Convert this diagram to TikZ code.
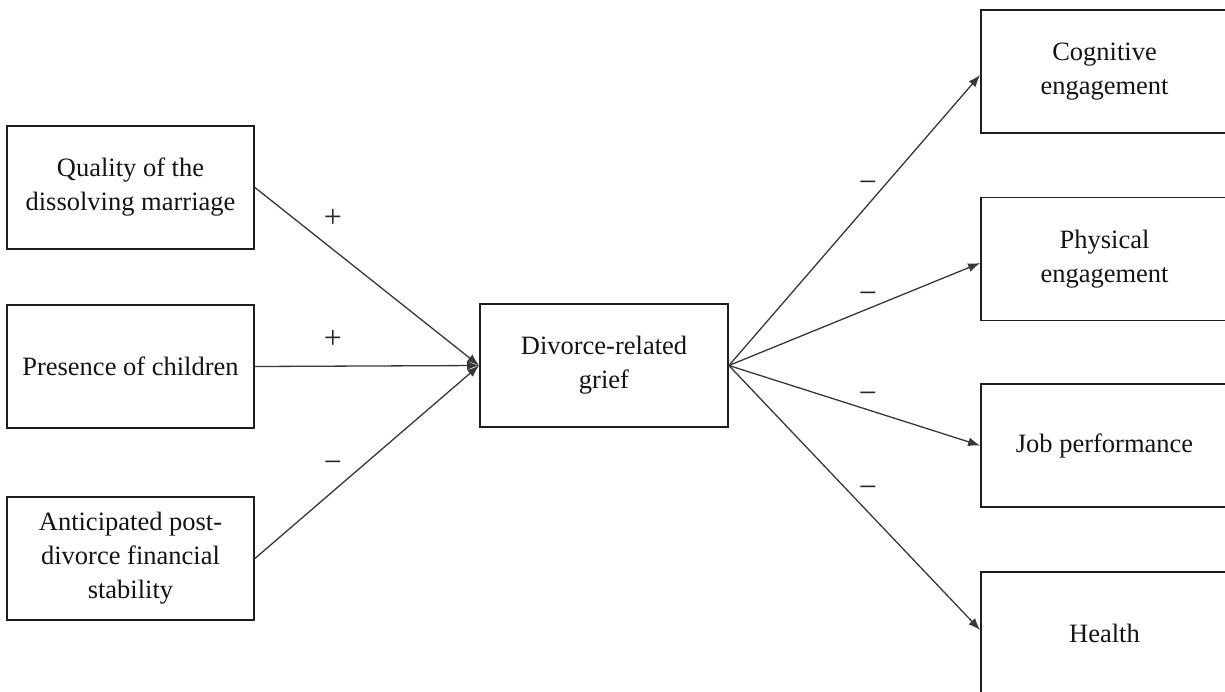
\documentclass[tikz,border=0pt]{standalone}
\usepackage{fontspec}
\setmainfont{Liberation Serif}
\usetikzlibrary{arrows.meta}
\tikzset{
  box/.style={draw=black!88, line width=1.8pt, minimum width=247pt, minimum height=123pt,
    align=center, inner sep=2pt, font=\fontsize{26.5}{34}\selectfont, text=black!92},
  arr/.style={draw=black!78, line width=1.3pt, -{Latex[length=12pt,width=9pt]}},
  sgn/.style={font=\fontsize{32}{34}\selectfont, text=black!85, inner sep=0pt}
}
\begin{document}
\begin{tikzpicture}[x=1pt,y=-1pt]
\useasboundingbox (0,0) rectangle (1225,691);
\fill[white] (0,0) rectangle (1225,691);
\clip (0,0) rectangle (1225,691);
% left boxes
\node[box] (q) at (130.5,187.5) {Quality of the\\dissolving marriage};
\node[box] (p) at (130.5,366.5) {Presence of children};
\node[box] (a) at (130.5,558.5) {Anticipated post-\\divorce financial\\stability};
% centre
\node[box, minimum width=248pt] (g) at (604,365.5) {Divorce-related\\grief};
% right boxes
\node[box] (c) at (1104.5,71.5) {Cognitive\\engagement};
\node[box] (ph) at (1104.5,259) {Physical\\engagement};
\node[box] (j) at (1104.5,445.5) {Job performance};
\node[box] (h) at (1104.5,633.5) {Health};
% connectors
\draw[arr] (q.east) -- (g.west);
\draw[arr] (p.east) -- (g.west);
\draw[arr] (a.east) -- (g.west);
\draw[arr] (g.east) -- ([yshift=-3.5pt]c.west);
\draw[arr] (g.east) -- ([yshift=-4pt]ph.west);
\draw[arr] (g.east) -- (j.west);
\draw[arr] (g.east) -- ([yshift=3.5pt]h.west);
% signs
\node[sgn] (s1) at (333,218) {+};
\node[sgn] (s2) at (333,339) {+};
\node[sgn] (s3) at (333,467) {−};
\node[sgn] (s4) at (868,187) {−};
\node[sgn] (s5) at (868,298) {−};
\node[sgn] (s6) at (868,398) {−};
\node[sgn] (s7) at (868,492) {−};
\end{tikzpicture}
\end{document}
